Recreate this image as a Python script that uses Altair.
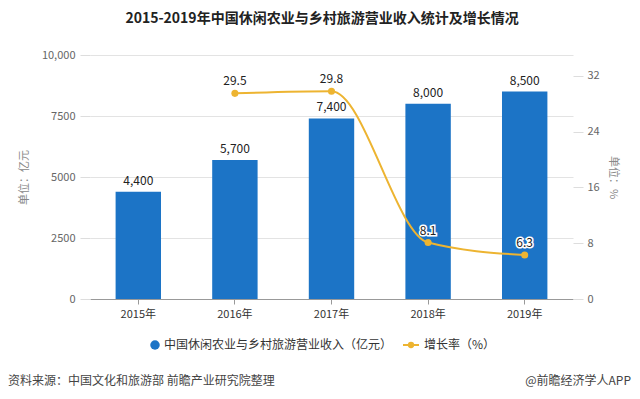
import altair as alt
import pandas as pd

years = ["2015年", "2016年", "2017年", "2018年", "2019年"]
income = [4400, 5700, 7400, 8000, 8500]
growth = [None, 29.5, 29.8, 8.1, 6.3]
left_ticks = [0, 2500, 5000, 7500, 10000]
right_ticks = [0, 8, 16, 24, 32]

title_text = "2015-2019年中国休闲农业与乡村旅游营业收入统计及增长情况"
bar_name = "中国休闲农业与乡村旅游营业收入（亿元）"
line_name = "增长率（%）"
source_text = "资料来源：中国文化和旅游部 前瞻产业研究院整理"
brand_text = "@前瞻经济学人APP"

BLUE = "#1C74C6"
GOLD = "#EDB431"
FONT = "Noto Sans CJK SC"

df = pd.DataFrame({"year": years, "income": income, "growth": growth})
df["income_label"] = [f"{v:,}" for v in income]
dfl = df.dropna(subset=["growth"]).copy()
dfl["growth_label"] = [f"{v:.1f}" for v in dfl["growth"]]

W, H = 483, 244

x = alt.X("year:N", sort=years, title=None,
          scale=alt.Scale(paddingInner=0.53, paddingOuter=0.265),
          axis=alt.Axis(labelAngle=0, labelFont=FONT, labelFontSize=11, labelColor="#333",
                        domainColor="#999", tickColor="#999", tickSize=5, labelPadding=4))

yl = alt.Y("income:Q", title="单位：亿元",
           scale=alt.Scale(domain=[0, 10000]),
           axis=alt.Axis(values=left_ticks, labelExpr="datum.value == 10000 ? '10,000' : datum.value",
                         labelFont=FONT, labelFontSize=11, labelColor="#666",
                         titleFont=FONT, titleFontSize=11, titleColor="#888", titleFontWeight="normal",
                         titlePadding=12, domain=False, tickSize=10, tickColor="#ddd",
                         gridColor="#e3e3e3", labelPadding=5))

bars = alt.Chart(df).mark_bar(color=BLUE).encode(x=x, y=yl)
bar_text = alt.Chart(df).mark_text(baseline="bottom", dy=-4, font=FONT, fontSize=12, color="#222").encode(
    x=alt.X("year:N", sort=years), y=alt.Y("income:Q"), text="income_label:N")

yr = alt.Y("growth:Q", title="单位：%",
           scale=alt.Scale(domain=[0, 32]),
           axis=alt.Axis(values=right_ticks, orient="right", grid=False,
                         labelFont=FONT, labelFontSize=11, labelColor="#666",
                         titleFont=FONT, titleFontSize=11, titleColor="#888", titleFontWeight="normal",
                         titlePadding=8, domain=False, tickSize=10, tickColor="#ddd", labelPadding=4))

line = alt.Chart(dfl).mark_line(color=GOLD, strokeWidth=2, interpolate="monotone").encode(
    x=alt.X("year:N", sort=years), y=yr)
pts = alt.Chart(dfl).mark_circle(color=GOLD, size=50, opacity=1).encode(
    x=alt.X("year:N", sort=years), y=alt.Y("growth:Q"))
lt_halo = alt.Chart(dfl).mark_text(baseline="bottom", dy=-5, font=FONT, fontSize=12,
                                   stroke="white", strokeWidth=3, color="white").encode(
    x=alt.X("year:N", sort=years), y=alt.Y("growth:Q"), text="growth_label:N")
lt = alt.Chart(dfl).mark_text(baseline="bottom", dy=-5, font=FONT, fontSize=12, color="#222").encode(
    x=alt.X("year:N", sort=years), y=alt.Y("growth:Q"), text="growth_label:N")

left_layer = alt.layer(bars, bar_text)
right_layer = alt.layer(line, pts, lt_halo, lt)

# decorations: title, legend, footer
deco_df = pd.DataFrame({"k": [0]})
def txt(t, xv, yv, size=12, color="#333", weight="normal", align="left"):
    return alt.Chart(deco_df).mark_text(text=t, font=FONT, fontSize=size, color=color,
                                        fontWeight=weight, align=align, baseline="middle").encode(
        x=alt.value(xv), y=alt.value(yv))

title = txt(title_text, 232, -36, size=14, color="#222", weight="bold", align="center")
leg_dot = alt.Chart(deco_df).mark_point(filled=True, shape="circle", size=90, color=BLUE, opacity=1).encode(
    x=alt.value(65), y=alt.value(290))
leg_t1 = txt(bar_name, 74, 290, size=12, color="#333")
leg_line = alt.Chart(deco_df).mark_rule(color=GOLD, strokeWidth=2).encode(
    x=alt.value(313), x2=alt.value(329), y=alt.value(290))
leg_pt = alt.Chart(deco_df).mark_point(filled=True, shape="circle", size=40, color=GOLD, opacity=1).encode(
    x=alt.value(321), y=alt.value(290))
leg_t2 = txt(line_name, 334, 290, size=12, color="#333")
src = txt(source_text, -82, 326, size=12, color="#444")
brand = txt(brand_text, 541, 326, size=12, color="#444", align="right")

deco = alt.layer(title, leg_dot, leg_t1, leg_line, leg_pt, leg_t2, src, brand)

chart = alt.layer(left_layer, right_layer, deco).resolve_scale(y="independent").properties(
    width=W, height=H,
    autosize=alt.AutoSizeParams(type="none"),
    padding={"left": 82, "top": 47, "right": 59, "bottom": 92},
).configure_view(stroke=None).configure_axisY(gridColor="#e3e3e3")

chart.save("out.html", embed_options={"renderer": "svg", "actions": False})
